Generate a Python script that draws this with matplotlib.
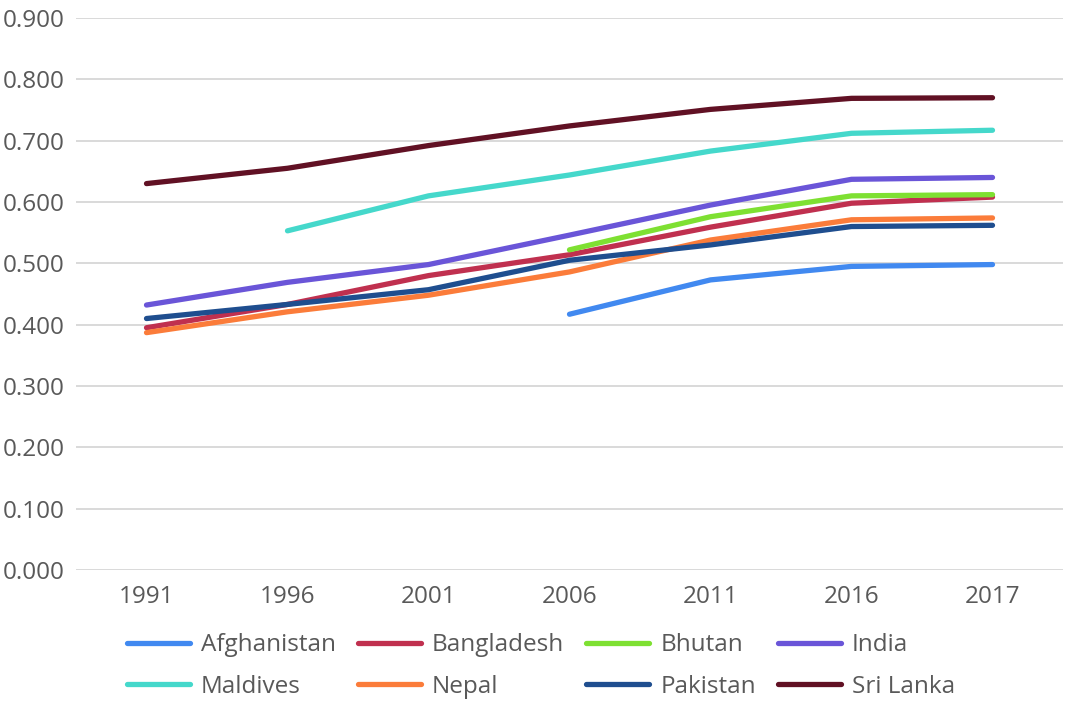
import matplotlib
matplotlib.use("Agg")
import matplotlib.pyplot as plt
import numpy as np

# Years (categorical axis) and index values per country
years = ["1991", "1996", "2001", "2006", "2011", "2016", "2017"]

afghanistan = [np.nan, np.nan, np.nan, 0.417, 0.473, 0.495, 0.498]
bangladesh = [0.395, 0.433, 0.480, 0.514, 0.559, 0.598, 0.608]
bhutan = [np.nan, np.nan, np.nan, 0.522, 0.576, 0.610, 0.612]
india = [0.432, 0.469, 0.498, 0.546, 0.595, 0.637, 0.640]
maldives = [np.nan, 0.553, 0.610, 0.644, 0.683, 0.712, 0.717]
nepal = [0.387, 0.421, 0.448, 0.486, 0.538, 0.571, 0.574]
pakistan = [0.410, 0.433, 0.457, 0.505, 0.530, 0.560, 0.562]
sri_lanka = [0.630, 0.655, 0.692, 0.724, 0.751, 0.769, 0.770]

series = [
    ("Afghanistan", afghanistan, "#4189f0"),
    ("Bangladesh", bangladesh, "#c0304f"),
    ("Bhutan", bhutan, "#7ee032"),
    ("India", india, "#6a55d8"),
    ("Maldives", maldives, "#45d8cb"),
    ("Nepal", nepal, "#fb7c3a"),
    ("Pakistan", pakistan, "#1f4e8f"),
    ("Sri Lanka", sri_lanka, "#611124"),
]

plt.rcParams["font.family"] = ["Open Sans", "DejaVu Sans"]
text_color = "#595959"

fig = plt.figure(figsize=(10.67, 7.04), dpi=100)
ax = fig.add_axes([76 / 1067, 1 - 570 / 704, (1063 - 76) / 1067, (570 - 18) / 704])

x = np.arange(len(years))
handles = []
for name, vals, color in series:
    line, = ax.plot(x, vals, color=color, lw=3.8, label=name, solid_capstyle="round",
                    solid_joinstyle="round")
    handles.append(line)

ax.set_xlim(-0.5, len(years) - 0.5)
ax.set_ylim(0, 0.9)
ax.set_yticks(np.arange(0, 0.91, 0.1))
ax.set_yticklabels([f"{v:.3f}" for v in np.arange(0, 0.91, 0.1)])
ax.set_xticks(x)
ax.set_xticklabels(years)
ax.tick_params(colors=text_color, labelsize=17.5, length=0)
ax.tick_params(axis="y", pad=8)
ax.tick_params(axis="x", pad=11)
ax.grid(True, axis="y", color="#d9d9d9", lw=1.4)
ax.set_axisbelow(True)
for s in ax.spines.values():
    s.set_visible(False)

# legend filled row by row (matplotlib fills columns first)
order = [0, 4, 1, 5, 2, 6, 3, 7]
leg = fig.legend([handles[i] for i in order], [series[i][0] for i in order],
                 loc="center", bbox_to_anchor=(0.507, 1 - 666 / 704), ncol=4,
                 frameon=False, fontsize=17.5, handlelength=2.6, handletextpad=0.45,
                 columnspacing=0.9, labelspacing=0.7, borderaxespad=0)
for t in leg.get_texts():
    t.set_color(text_color)

fig.savefig("out.png", dpi=100)
